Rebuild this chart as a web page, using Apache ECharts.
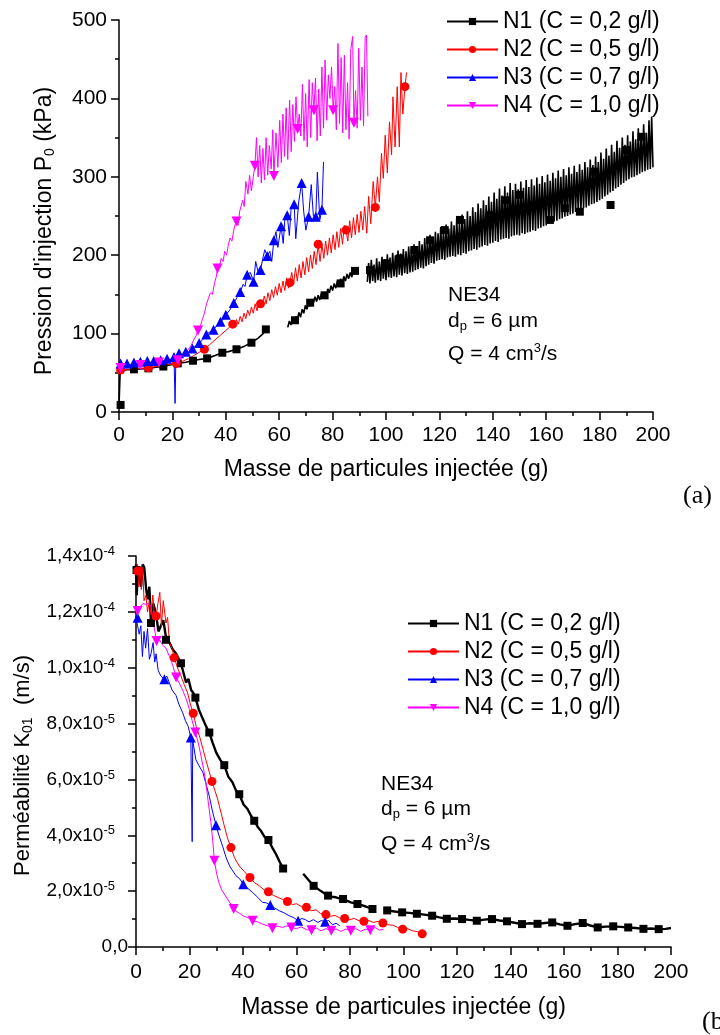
<!DOCTYPE html>
<html>
<head>
<meta charset="utf-8">
<script src="https://cdn.jsdelivr.net/npm/echarts/dist/echarts.min.js"></script>
<style>html,body{margin:0;padding:0;background:#fff}#c{width:720px;height:1035px}</style>
</head>
<body>
<div id="c"></div>
<script>
// ---------- names / styles ----------
const seriesNames = ['N1 (C = 0,2 g/l)', 'N2 (C = 0,5 g/l)', 'N3 (C = 0,7 g/l)', 'N4 (C = 1,0 g/l)'];
const seriesColors = ['#000000', '#ff0000', '#0000ff', '#ff00ff'];
const seriesSymbols = ['rect', 'circle', 'triangle', 'triangle'];
const symbolRotations = [0, 0, 0, 180];
const symbolSizes = [8, 9, 10, 10];

// bottom y tick labels (axis in units of 1e-5 m/s)
const yLabelsB = [['0,0', ''], ['2,0x10', '-5'], ['4,0x10', '-5'], ['6,0x10', '-5'], ['8,0x10', '-5'], ['1,0x10', '-4'], ['1,2x10', '-4'], ['1,4x10', '-4']];

// ---------- (a) Pression d'injection P0 (kPa) vs masse (g) ----------
const topN1Line = [[0,8],[0.4,48],[1,53],[3,54],[5.6,54.4],[8,55],[11,55.7],[14,57],[16.6,58],[19,60],[22,62],[25,63.5],[27.7,65.4],[30,67],[33,68.4],[36,72],[38.7,75.6],[41,77],[44,80],[47,84],[49.6,88.4],[52,94],[54,100],[55,105.4],[59,null],
[63.2,108],[63.8,116],[64.4,111],[65,120],[65.6,114],[66.2,122],[66.8,118],[67.4,127],[68,121],[68.6,131],[69.2,126],[69.8,136],[70.4,131],[71,140],[71.6,135],[72.2,144],[72.8,139],[73.4,147],[74,141],[74.6,149],[75.2,143],[75.8,151],[76.4,146],[77,153],[77.6,148],[78.2,157],[78.8,152],[79.4,161],[80,155],[80.6,164],[81.2,158],[81.8,167],[82.4,161],[83,170],[83.6,164],[84.2,173],[84.8,167],[85.4,176],[86,170],[86.6,178],[87.2,172],[87.8,181],[88.5,176],[90.5,null],
[93,166],[93.5,190],[94,164],[94.5,194],[95,167],[95.5,188],[96,165],[96.5,196],[97,168],[97.5,192],[98,167],[98.5,198],[99,170],[99.5,195],[100,168],[100.5,201],[101,172],[101.5,197],[102,171],[102.5,203],[103,173],[103.5,200],[104,172],[104.5,206],[105,175],[105.5,202],[106,174],[106.5,208],[107,177],[107.5,205],[108,176],[108.5,211],[109,178],[109.5,208],[110,179],[110.5,214],[111,181],[111.5,210],[112,182],[112.5,218],[113,184],[113.5,214],[114,183],[114.5,222],[115,186],[115.5,218],[116,188],[116.5,226],[117,190],[117.5,222],[118,189],[118.5,230],[119,193],[119.5,228],[120,194],[120.5,236],[121,195],[121.5,230],[122,194],[122.5,239],[123,197],[123.5,234],[124,198],[124.5,243],[125,199],[125.5,238],[126,198],[126.5,247],[127,201],[127.5,242],[128,200],[128.5,252],[129,203],[129.5,246],[130,202],[130.5,256],[131,205],[131.5,250],[132,206],[132.5,261],[133,208],[133.5,255],[134,207],[134.5,266],[135,210],[135.5,260],[136,211],[136.5,270],[137,213],[137.5,264],[138,212],[138.5,275],[139,215],[139.5,268],[140,216],[140.5,280],[141,218],[141.5,272],[142,217],[142.5,285],[143,220],[143.5,276],[144,221],[144.5,288],[145,222],[145.5,280],[146,221],[146.5,292],[147,224],[147.5,283],[148,225],[148.5,291],[149,226],[149.5,284],[150,225],[150.5,294],[151,228],[151.5,286],[152,227],[152.5,296],[153,229],[153.5,287],[154,230],[154.5,297],[155,232],[155.5,289],[156,231],[156.5,299],[157,234],[157.5,291],[158,235],[158.5,301],[159,237],[159.5,293],[160,238],[160.5,303],[161,240],[161.5,295],[162,242],[162.5,305],[163,243],[163.5,298],[164,244],[164.5,308],[165,246],[165.5,300],[166,247],[166.5,310],[167,249],[167.5,302],[168,250],[168.5,312],[169,252],[169.5,304],[170,253],[170.5,314],[171,255],[171.5,306],[172,256],[172.5,316],[173,258],[173.5,309],[174,260],[174.5,319],[175,261],[175.5,312],[176,263],[176.5,322],[177,265],[177.5,315],[178,266],[178.5,326],[179,268],[179.5,319],[180,270],[180.5,331],[181,272],[181.5,323],[182,275],[182.5,336],[183,277],[183.5,327],[184,280],[184.5,341],[185,282],[185.5,332],[186,285],[186.5,346],[187,287],[187.5,337],[188,290],[188.5,350],[189,292],[189.5,341],[190,295],[190.5,353],[191,297],[191.5,345],[192,299],[192.5,358],[193,300],[193.5,348],[194,302],[194.5,362],[195,304],[195.5,352],[196,306],[196.5,367],[197,307],[197.5,356],[198,309],[198.5,372],[199,310],[199.5,377],[200,312]];
const topN1Marks = [[0.6,9],[5.6,54.4],[11,55.7],[16.6,58],[22,62],[27.7,65.4],[33,68.4],[38.7,75.6],[44,80],[49.6,88.4],[55,105.4],[65.9,117],[71.6,139.4],[77,148.8],[83,164],[88.4,180],[94,181],[99.6,189.6],[105.2,196],[110.6,206.6],[116.5,219],[122,232],[127.7,245],[133.3,230],[139,251],[144.6,270],[150.2,277],[155.8,264],[161.4,245],[167,260],[172.6,255.5],[178.3,306.5],[184.1,264],[190.1,334],[195.7,351]];

const topN2Line = [[0,50],[0.6,53.5],[2,54],[4,54],[6,55],[8,55.5],[11,56.5],[14,58],[17,60],[19,61],[21.5,62],[24,65],[26,68],[28,72],[30,76],[32,80],[34,86],[36,92],[38,98],[40,104],[41.3,108],[42.6,112],
[43.3,108],[44,118],[44.7,112],[45.4,122],[46.1,115],[46.8,126],[47.5,119],[48.2,130],[48.9,123],[49.6,134],[50.3,126],[51,138],[51.7,129],[52.4,141],[53,138],[53.7,135],[54.4,148],[55.1,138],[55.8,152],[56.5,142],[57.2,156],[57.9,146],[58.6,160],[59.3,149],[60,164],[60.7,152],[61.4,167],[62.1,155],[62.8,171],[63.5,158],[64,165],[64.7,178],[65.4,163],[66.1,184],[66.8,167],[67.5,188],[68.2,171],[68.9,192],[69.6,175],[70.3,197],[71,179],[71.7,200],[72.4,183],[73.1,205],[73.8,188],[74.6,214],[75.3,192],[76,214],[76.7,196],[77.4,218],[78.1,200],[78.8,222],[79.5,203],[80.2,226],[80.9,207],[81.6,230],[82.3,210],[83,234],[83.7,214],[84.4,238],[85,232],[85.7,218],[86.4,244],[87.1,222],[87.8,248],[88.5,226],[89.2,252],[89.9,229],[90.6,256],[91.3,232],[92,262],[92.8,228],[93.5,275],[94.3,240],[95.2,294],[96,261],[96.8,300],[97.5,268],[98.3,330],[99,298],[99.7,353],[100.5,305],[101.3,370],[102.1,328],[102.6,402],[103.4,338],[104.2,415],[105,338],[105.6,433],[106.3,380],[107.1,415],[107.7,433]];
const topN2Marks = [[0.6,53.5],[11,56.5],[21.5,62],[32,80],[42.6,112],[53,138],[64,165],[74.6,214],[85,232],[96,261],[107.1,415]];

const topN3Line = [[0,58],[0.6,62],[1.5,59],[3,62],[4,60],[5.6,63],[7,61],[8,64],[9,62],[10.6,65],[12,63],[13,65],[14.5,64],[15.6,66],[17,65],[18,68],[19.5,67],[20.6,70],[21,11],[21.3,70],[22.5,75],[24,73],[25,77],[26.3,76],[27.5,81],[29,85],[30,88],[31.3,92],[32.7,99],[34,102],[35.4,105],[36.6,110],[38,115],[39,118],[40,124],[41.5,130],[43,139],[44.2,146],[45.4,153],[46.5,163],[47.2,160],[48,175],[49.2,178],[50.4,166],[51.2,192],[52,180],[53,181],[54,198],[54.6,207],[55.5,199],[56.5,205],[57.2,192],[58,219],[58.8,230],[59.5,210],[60.7,237],[61.5,215],[62.2,250],[63,251],[63.8,225],[64.5,262],[65.6,265],[66.2,221],[67.3,268],[68.4,292],[69.2,255],[70,232],[71,249],[72,290],[72.8,250],[73.7,249],[74.3,306],[75.2,245],[76,258],[76.6,319]];
const topN3Marks = [[0.6,62],[3,62],[5.6,63],[8,64],[10.6,65],[13,65],[15.6,66],[18,68],[20.6,70],[22.5,75],[25,77],[27.5,81],[30,88],[32.7,99],[35.4,105],[38,115],[40,124],[43,139],[45.4,153],[48,175],[50.4,166],[53,181],[55.5,199],[58,219],[60.7,237],[63,251],[65.6,265],[68.4,292],[71,249],[73.7,249],[76,258]];

const topN4Line = [[0,55],[1,57],[2,58],[3,56],[4,60],[5,58],[6,59],[7,61],[8,60],[9,62],[10,61],[11,60],[12,62],[13,63],[14,61],[15,63],[16,62],[17,64],[18,63],[19,64],[20,65],[21,64],[22,66],[23,68],[24,71],[25,75],[26,80],[27,85],[28,92],[29,98],[29.6,104],[30.5,110],[31.2,118],[32,126],[32.8,138],[33.5,145],[34.2,152],[35,150],[35.8,165],[36.4,172],[36.9,183],[37.6,186],[38.3,196],[39,192],[39.6,205],[40.3,200],[41,214],[41.6,222],[42.3,218],[43,232],[43.6,240],[44,243],[44.6,238],[45.2,256],[45.8,254],[46.3,270],[46.9,262],[47.5,294],[48.3,278],[48.9,302],[49.6,282],[50.3,300],[50.9,314],[51.5,350],[52.1,300],[52.7,340],[53.3,292],[53.9,336],[54.5,296],[55.1,350],[55.7,302],[56.3,340],[57,310],[57.6,360],[58,301],[58.8,356],[59.5,312],[60.2,372],[60.8,318],[61.4,380],[62,326],[62.6,388],[63.2,322],[63.9,398],[64.5,332],[65.1,392],[65.7,345],[66.3,402],[66.9,361],[67.5,380],[68.1,352],[68.7,418],[69.3,346],[69.9,406],[70.5,338],[71.2,424],[71.8,350],[72.4,420],[73,385],[73.6,426],[74.2,346],[74.8,412],[75.4,352],[76,440],[76.6,362],[77.2,449],[77.8,372],[78.4,430],[79,400],[79.6,440],[80.2,385],[80.8,415],[81.4,360],[82,470],[82.6,368],[83.2,452],[83.8,356],[84.4,455],[85,360],[85.6,420],[86.2,348],[86.8,462],[87.5,479],[88,369],[88.6,410],[89.2,362],[89.8,464],[90.4,372],[91,440],[91.6,365],[92.2,478],[92.7,481],[93.2,377]];
const topN4Marks = [[0.6,56],[8,60],[15,63],[22,66],[29.6,104],[36.9,183],[44,243],[50.9,314],[58,301],[66.9,361],[73,385],[80.2,385],[88,369]];

// ---------- (b) Perméabilité K01 (x1e-5 m/s) vs masse (g) ----------
const botN1Line = [[0,13.7],[0.3,12.6],[0.6,13.64],[1.2,13.2],[1.9,12.9],[2.5,13.7],[3.1,13.58],[3.8,12.8],[4.4,12.45],[5,12.9],[5.6,11.6],[6.5,12.3],[7.5,11.9],[8.4,11.3],[9.3,11.5],[10.2,11.7],[11.2,11.1],[12.5,10.9],[13.7,10.66],[15,10.5],[16.8,10.16],[17.8,9.8],[18.7,9.47],[19.6,9.6],[20.6,9.2],[21.4,9.1],[22.2,8.93],[23.5,8.5],[25,8.16],[26.2,7.9],[27.4,7.68],[28.7,7.3],[30,6.96],[31.5,6.7],[33,6.51],[34.5,6.1],[36.1,5.89],[37.4,5.6],[38.6,5.47],[40.2,5.1],[41.7,4.94],[43,4.7],[44.2,4.52],[45.5,4.3],[46.7,4.16],[48,3.95],[49.5,3.83],[51,3.55],[52.3,3.33],[53.7,3.05],[55,2.81],[59,null],
[62.5,2.62],[63.1,2.57],[64.5,2.4],[66.4,2.19],[67.7,2.1],[69,2.01],[70.4,1.92],[71.8,1.84],[73.2,1.8],[74.7,1.78],[76,1.74],[77.4,1.72],[78.8,1.66],[80.3,1.6],[81.5,1.57],[82.8,1.54],[84.3,1.5],[85.9,1.45],[87.2,1.4],[88.6,1.36],[91,null],
[93,1.33],[93.9,1.31],[96.7,1.27],[99.5,1.24],[102.2,1.22],[105,1.19],[107.8,1.16],[110.7,1.12],[113.4,1.06],[116.2,1.01],[119,1.02],[121.9,1.0],[124.6,0.97],[127.4,0.94],[130.2,0.98],[133.1,1.0],[135.9,0.95],[138.7,0.92],[141.5,0.87],[144.3,0.82],[147.2,0.85],[150.1,0.83],[152.8,0.86],[155.6,0.88],[158.4,0.81],[161.3,0.76],[164.1,0.82],[167,0.86],[169.8,0.77],[172.6,0.7],[175.5,0.73],[178.4,0.74],[181.2,0.72],[184,0.7],[186.8,0.68],[189.7,0.65],[192.5,0.66],[195.4,0.64],[198,0.65],[200,0.68]];
const botN1Marks = [[0.2,13.5],[5.6,11.6],[11.2,11.0],[16.8,10.16],[22.2,8.93],[27.4,7.68],[33,6.51],[38.6,5.47],[44.2,4.52],[49.5,3.83],[55,2.81],[66.4,2.19],[71.8,1.84],[77.4,1.72],[82.8,1.54],[88.4,1.36],[93.9,1.31],[99.5,1.24],[105,1.19],[110.7,1.12],[116.2,1.01],[121.9,1.0],[127.4,0.94],[133.1,1.0],[138.7,0.92],[144.3,0.82],[150.1,0.83],[155.6,0.88],[161.3,0.76],[167,0.86],[172.6,0.7],[178.4,0.74],[184,0.7],[189.7,0.65],[195.4,0.64]];

const botN2Line = [[0,13.46],[0.5,13.7],[1,12.9],[1.5,13.6],[2,12.8],[2.5,13.6],[3,12.4],[3.7,12.6],[4.3,12.0],[5,12.4],[5.6,11.9],[6.3,12.6],[7,11.7],[7.5,11.85],[8.2,12.3],[8.9,12.7],[9.5,11.5],[10.2,12.4],[11.2,11.6],[11.8,11.8],[12.5,10.9],[13.4,10.7],[14.3,10.36],[15.5,10.0],[16.8,9.7],[18,9.4],[19.3,9.1],[20.3,8.7],[21.4,8.37],[22.5,7.9],[23.7,7.56],[25,7.1],[26.1,6.7],[27.3,6.3],[28.4,5.93],[29.5,5.6],[30.5,5.3],[31.8,4.8],[33,4.34],[34.2,3.9],[35.5,3.56],[36.8,3.2],[38.6,2.9],[40.5,2.7],[42.6,2.49],[44.3,2.3],[46,2.2],[47.8,2.05],[49.5,1.98],[51.3,1.85],[53,1.78],[54.8,1.7],[56.6,1.63],[58.5,1.52],[60,1.55],[61.8,1.45],[63.7,1.42],[65.5,1.3],[67.3,1.33],[69,1.2],[71,1.16],[72.7,1.1],[74.4,1.13],[76.2,1.04],[78,1.02],[79.8,0.98],[81.6,1.02],[83.4,0.94],[85.2,0.92],[87,0.95],[88.7,0.88],[90.5,0.92],[92.3,0.86],[94,0.8],[96,0.78],[97.8,0.7],[99.7,0.64],[101.5,0.66],[103.3,0.58],[105.2,0.55],[107,0.47]];
const botN2Marks = [[0.6,13.46],[7.5,11.85],[14.3,10.36],[21.4,8.37],[28.4,5.93],[35.5,3.56],[42.6,2.49],[49.5,1.98],[56.6,1.63],[63.7,1.42],[71,1.16],[78,1.02],[85.2,0.92],[92.3,0.86],[99.7,0.64],[107,0.47]];

const botN3Line = [[0,11.79],[0.6,11.5],[1.2,11.2],[1.8,11.5],[2.4,10.4],[3,11.3],[3.6,10.7],[4.3,11.4],[5,10.3],[5.6,10.5],[6.4,10.9],[7,10.2],[7.5,10.5],[8.3,9.9],[9.3,9.7],[10.6,9.59],[11.5,9.7],[12.5,9.45],[13.5,9.2],[15,9.0],[16,8.7],[17.4,8.4],[18.5,8.1],[19.5,7.9],[20.5,7.5],[21,3.77],[21.2,7.4],[22.4,6.7],[23.5,6.5],[25,6.25],[26,5.9],[27.4,5.4],[28.5,4.9],[29.9,4.36],[31,4.0],[32.4,3.6],[33.7,3.2],[35,2.9],[36,2.75],[37.4,2.55],[38.7,2.45],[40.1,2.25],[41.8,2.1],[43.6,1.95],[45.5,1.78],[47.3,1.6],[48.7,1.58],[50.2,1.5],[51.8,1.4],[53.5,1.3],[55.4,1.22],[57.3,1.12],[59,1.05],[60.6,0.94],[62,1.02],[63.3,0.98],[64.7,0.9],[66.3,0.98],[68,0.88],[69.3,0.95],[70.7,0.9],[72,0.95],[73.4,0.8],[74.8,0.85],[76.2,0.76]];
const botN3Marks = [[0.6,11.79],[10.6,9.59],[20.5,7.5],[29.9,4.36],[40.1,2.25],[50.2,1.5],[60.6,0.94],[70.7,0.9]];

const botN4Line = [[0,12.03],[0.8,12.1],[1.7,12.2],[2.6,12.3],[3.7,12.27],[4.6,12.3],[5.6,12.2],[6.5,11.6],[7.7,10.96],[8.8,11.0],[10,10.8],[11.2,10.7],[12.5,10.4],[13.7,10.1],[15,9.65],[16.2,9.45],[17.4,9.2],[18.7,8.9],[20,8.5],[21,8.1],[22.2,7.68],[23.3,7.3],[24.3,6.84],[25.2,6.4],[26.1,5.9],[27,5.2],[28,4.46],[28.7,3.8],[29.3,3.09],[30.2,2.6],[31,2.3],[32,2.05],[33,1.9],[34,1.75],[35,1.6],[35.7,1.5],[36.5,1.36],[37.5,1.28],[38.8,1.2],[40,1.12],[41.8,1.05],[43.6,0.94],[45.5,0.9],[47.3,0.82],[49.2,0.76],[51,0.67],[52.8,0.75],[54.8,0.7],[56.4,0.76],[58.1,0.7],[60,0.66],[61.8,0.72],[63.7,0.62],[65.6,0.6],[67.4,0.68],[69.2,0.58],[71,0.66],[73,0.58],[74.8,0.64],[76.6,0.56],[78.4,0.64],[80.3,0.58],[82.1,0.66],[84,0.56],[85.8,0.64],[87.6,0.6],[89.4,0.7],[91,0.6],[92.5,0.64]];
const botN4Marks = [[0.6,12.03],[7.7,10.96],[15,9.65],[22.2,7.68],[29.3,3.09],[36.5,1.36],[43.6,0.94],[51,0.67],[58.1,0.7],[65.6,0.6],[73,0.58],[80.3,0.58],[87.6,0.6]];

// ---------- build ----------
const FONT = '"Liberation Sans", Arial, sans-serif';
const topLines = [topN1Line, topN2Line, topN3Line, topN4Line];
const topMarks = [topN1Marks, topN2Marks, topN3Marks, topN4Marks];
const botLines = [botN1Line, botN2Line, botN3Line, botN4Line];
const botMarks = [botN1Marks, botN2Marks, botN3Marks, botN4Marks];
const topWidths = [1.6, 1, 1, 1];
const botWidths = [2.4, 1, 1, 1];

function makeSeries(g, lines, marks, widths) {
  const out = [];
  for (let i = 0; i < 4; i++) {
    out.push({
      type: 'line', name: seriesNames[i], xAxisIndex: g, yAxisIndex: g,
      data: lines[i], showSymbol: false, symbol: seriesSymbols[i], symbolRotate: symbolRotations[i],
      connectNulls: false, lineStyle: { color: seriesColors[i], width: widths[i] },
      itemStyle: { color: seriesColors[i] }, z: 2, silent: true
    });
  }
  for (let i = 0; i < 4; i++) {
    out.push({
      type: 'scatter', name: seriesNames[i], xAxisIndex: g, yAxisIndex: g,
      data: marks[i], symbol: seriesSymbols[i], symbolRotate: symbolRotations[i],
      symbolSize: symbolSizes[i], itemStyle: { color: seriesColors[i], opacity: 1 }, z: 3, silent: true
    });
  }
  return out;
}

const axisCommon = {
  type: 'value',
  nameLocation: 'middle',
  axisLine: { show: true, onZero: false, lineStyle: { color: '#000', width: 1.5 } },
  axisTick: { show: true, inside: false, length: 8, lineStyle: { color: '#000', width: 1.5 } },
  minorTick: { show: true, splitNumber: 2, length: 4, lineStyle: { color: '#000', width: 1.5 } },
  splitLine: { show: false },
  minorSplitLine: { show: false }
};
const labelStyle = { color: '#000', fontFamily: FONT, fontSize: 21 };
const nameStyle = { color: '#000', fontFamily: FONT, fontSize: 23 };

const option = {
  animation: false,
  backgroundColor: '#fff',
  textStyle: { fontFamily: FONT },
  grid: [
    { left: 119, top: 20, width: 534, height: 392, outerBoundsMode: 'none' },
    { left: 136, top: 556, width: 535, height: 391, outerBoundsMode: 'none' }
  ],
  xAxis: [
    Object.assign({}, axisCommon, { gridIndex: 0, min: 0, max: 200, interval: 20,
      name: 'Masse de particules injectée (g)', nameGap: 46, nameTextStyle: nameStyle,
      axisLabel: Object.assign({ margin: 13 }, labelStyle) }),
    Object.assign({}, axisCommon, { gridIndex: 1, min: 0, max: 200, interval: 20,
      name: 'Masse de particules injectée (g)', nameGap: 49, nameTextStyle: nameStyle,
      axisLabel: Object.assign({ margin: 15 }, labelStyle) })
  ],
  yAxis: [
    Object.assign({}, axisCommon, { gridIndex: 0, min: 0, max: 500, interval: 100,
      name: "{a|Pression d'injection P}{s|0}{a| (kPa)}", nameGap: 62,
      nameTextStyle: { padding: [0, 30, 0, 0], rich: {
        a: { fontFamily: FONT, fontSize: 23, lineHeight: 24, color: '#000' },
        s: { fontFamily: FONT, fontSize: 14, lineHeight: 6, verticalAlign: 'bottom', color: '#000' } } },
      axisLabel: Object.assign({ margin: 12 }, labelStyle) }),
    Object.assign({}, axisCommon, { gridIndex: 1, min: 0, max: 14, interval: 2,
      name: '{a|Perméabilité K}{s|01}{a|  (m/s)}', nameGap: 101,
      nameTextStyle: { padding: [0, 28, 0, 0], rich: {
        a: { fontFamily: FONT, fontSize: 22, lineHeight: 24, color: '#000' },
        s: { fontFamily: FONT, fontSize: 14, lineHeight: 6, verticalAlign: 'bottom', color: '#000' } } },
      axisLabel: {
        margin: 8,
        formatter: function (v) {
          const lab = yLabelsB[Math.round(v / 2)];
          if (!lab) return '';
          return lab[1] ? '{m|' + lab[0] + '}{e|' + lab[1] + '}{p| }' : '{m|' + lab[0] + '}';
        },
        rich: {
          m: { fontFamily: FONT, fontSize: 19, lineHeight: 22, color: '#000' },
          e: { fontFamily: FONT, fontSize: 13, lineHeight: 10, verticalAlign: 'top', color: '#000' },
          p: { fontFamily: FONT, fontSize: 13, width: 13, lineHeight: 10 }
        }
      } })
  ],
  legend: [
    { data: seriesNames, orient: 'vertical', left: 441, top: 5, itemWidth: 51, itemHeight: 9, itemGap: 5,
      textStyle: { color: '#000', fontFamily: FONT, fontSize: 23, lineHeight: 23 }, selectedMode: false },
    { data: seriesNames, orient: 'vertical', left: 402, top: 607, itemWidth: 51, itemHeight: 9, itemGap: 5,
      textStyle: { color: '#000', fontFamily: FONT, fontSize: 23, lineHeight: 23 }, selectedMode: false }
  ],
  graphic: [
    { type: 'text', x: 448, y: 295, style: { text: 'NE34', fontFamily: FONT, fontSize: 21, fill: '#000', verticalAlign: 'middle' } },
    { type: 'text', x: 448, y: 321, style: { text: '{a|d}{s|p}{a| = 6 µm}', fill: '#000', verticalAlign: 'middle',
      rich: { a: { fontFamily: FONT, fontSize: 21, lineHeight: 24 }, s: { fontFamily: FONT, fontSize: 13, lineHeight: 6, verticalAlign: 'bottom' } } } },
    { type: 'text', x: 448, y: 354, style: { text: '{a|Q = 4 cm}{u|3}{a|/s}', fill: '#000', verticalAlign: 'middle',
      rich: { a: { fontFamily: FONT, fontSize: 21, lineHeight: 24 }, u: { fontFamily: FONT, fontSize: 13, lineHeight: 10, verticalAlign: 'top' } } } },
    { type: 'text', x: 381, y: 784, style: { text: 'NE34', fontFamily: FONT, fontSize: 21, fill: '#000', verticalAlign: 'middle' } },
    { type: 'text', x: 381, y: 809, style: { text: '{a|d}{s|p}{a| = 6 µm}', fill: '#000', verticalAlign: 'middle',
      rich: { a: { fontFamily: FONT, fontSize: 21, lineHeight: 24 }, s: { fontFamily: FONT, fontSize: 13, lineHeight: 6, verticalAlign: 'bottom' } } } },
    { type: 'text', x: 381, y: 844, style: { text: '{a|Q = 4 cm}{u|3}{a|/s}', fill: '#000', verticalAlign: 'middle',
      rich: { a: { fontFamily: FONT, fontSize: 21, lineHeight: 24 }, u: { fontFamily: FONT, fontSize: 13, lineHeight: 10, verticalAlign: 'top' } } } },
    { type: 'text', x: 683, y: 496, style: { text: '(a)', fontFamily: '"Liberation Serif", serif', fontSize: 26, fill: '#000', verticalAlign: 'middle' } },
    { type: 'text', x: 702, y: 1022, style: { text: '(b)', fontFamily: '"Liberation Serif", serif', fontSize: 26, fill: '#000', verticalAlign: 'middle' } }
  ],
  series: makeSeries(0, topLines, topMarks, topWidths).concat(makeSeries(1, botLines, botMarks, botWidths))
};

const chart = echarts.init(document.getElementById('c'), null, { renderer: 'canvas' });
chart.setOption(option);
</script>
</body>
</html>
